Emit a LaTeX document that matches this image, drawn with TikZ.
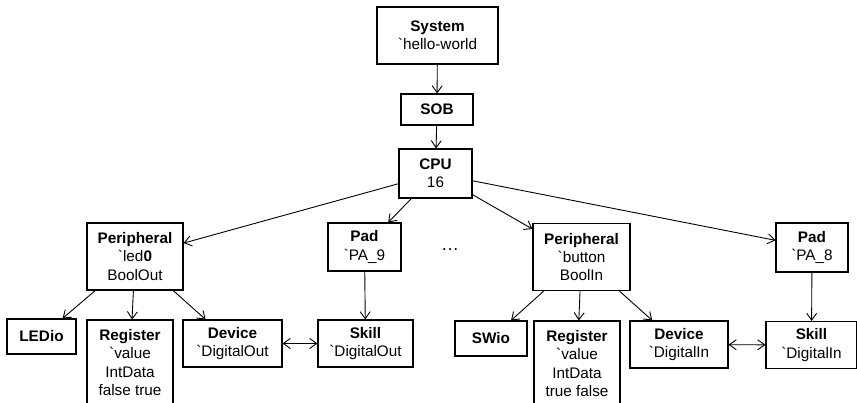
\documentclass[tikz,border=0pt]{standalone}
\usepackage{fontspec}
\setmainfont{Liberation Sans}
\usetikzlibrary{arrows.meta}
\newcommand\bq{\textasciigrave}
\begin{document}
\begin{tikzpicture}[x=1pt,y=-1pt,
  box/.style={draw,line width=1.1pt,inner sep=0pt,align=center,
    font=\fontsize{15.3}{18.3}\selectfont},
  edge/.style={line width=0.9pt,-{Straight Barb[length=7pt,width=10pt]}},
  dedge/.style={line width=0.9pt,{Straight Barb[length=7pt,width=10pt]}-{Straight Barb[length=7pt,width=10pt]}}]
\useasboundingbox (0,0) rectangle (857,402);
\node[box,minimum width=121pt,minimum height=57pt] (sys) at (437.5,35.5) {\textbf{System}\\\bq hello-world};
\node[box,minimum width=72pt,minimum height=31pt] (sob) at (437,109.5) {\textbf{SOB}};
\node[box,minimum width=73pt,minimum height=49pt] (cpu) at (435.5,173.5) {\textbf{CPU}\\16};
\node[box,minimum width=96pt,minimum height=67pt] (p1) at (135,256.5) {\textbf{Peripheral}\\\bq led\textbf{0}\\BoolOut};
\node[box,minimum width=73pt,minimum height=48pt] (pad1) at (364.5,247) {\textbf{Pad}\\\bq PA\_9};
\node[box,minimum width=97pt,minimum height=67pt] (p2) at (581.5,257) {\textbf{Peripheral}\\\bq button\\BoolIn};
\node[box,minimum width=72pt,minimum height=49pt] (pad2) at (812,247.5) {\textbf{Pad}\\\bq PA\_8};
\node[font=\fontsize{18}{20}\selectfont] (dots) at (450,250) {…};
\node[box,minimum width=69pt,minimum height=35pt] (led) at (41.5,336.5) {\textbf{LEDio}};
\node[box,minimum width=86pt,minimum height=85pt] (r1) at (130,362.5) {\textbf{Register}\\\bq value\\IntData\\false true};
\node[box,minimum width=99pt,minimum height=47pt] (d1) at (232.5,343.5) {\textbf{Device}\\\bq DigitalOut};
\node[box,minimum width=95pt,minimum height=47pt] (s1) at (365.5,343.5) {\textbf{Skill}\\\bq DigitalOut};
\node[box,minimum width=72pt,minimum height=35pt] (sw) at (491,338.5) {\textbf{SWio}};
\node[box,minimum width=86pt,minimum height=85pt] (r2) at (577,363.5) {\textbf{Register}\\\bq value\\IntData\\true false};
\node[box,minimum width=98pt,minimum height=47pt] (d2) at (679,344.5) {\textbf{Device}\\\bq DigitalIn};
\node[box,minimum width=91pt,minimum height=47pt] (s2) at (811.5,345) {\textbf{Skill}\\\bq DigitalIn};
\draw[edge] (sys) -- (sob);
\draw[edge] (sob) -- (cpu);
\draw[edge] (cpu) -- (p1);
\draw[edge] (cpu) -- (pad1);
\draw[edge] (cpu) -- (p2);
\draw[edge] (cpu) -- (pad2);
\draw[edge] (p1) -- (led);
\draw[edge] (p1) -- (r1);
\draw[edge] (p1) -- (d1);
\draw[edge] (pad1) -- (s1);
\draw[dedge] (d1) -- (s1);
\draw[edge] (p2) -- (sw);
\draw[edge] (p2) -- (r2);
\draw[edge] (p2) -- (d2);
\draw[edge] (pad2) -- (s2);
\draw[dedge] (d2) -- (s2);
\end{tikzpicture}
\end{document}
